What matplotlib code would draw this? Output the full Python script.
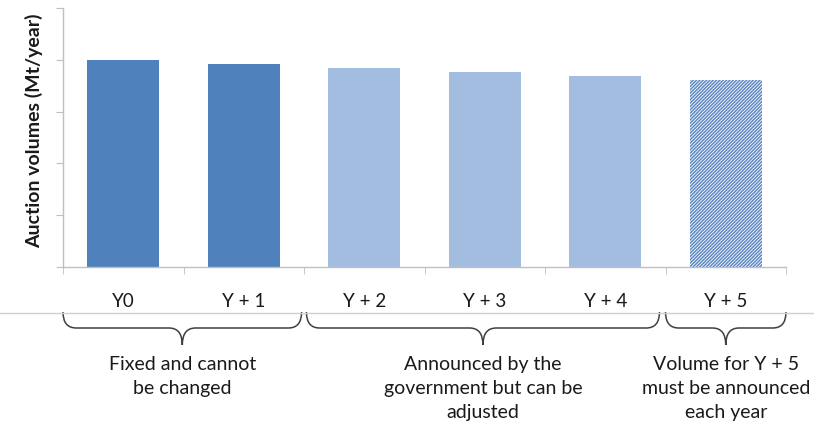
import matplotlib
matplotlib.use("Agg")
import matplotlib.pyplot as plt
from matplotlib.path import Path
from matplotlib.patches import PathPatch
from matplotlib.transforms import blended_transform_factory
from matplotlib.lines import Line2D

# ---- data ----
categories = ["Y0", "Y + 1", "Y + 2", "Y + 3", "Y + 4", "Y + 5"]
volumes = [4.0, 3.92, 3.85, 3.77, 3.69, 3.61]
bar_style = ["fixed", "fixed", "announced", "announced", "announced", "new"]
group_spans = [(-0.5, 1.48), (1.52, 4.45), (4.5, 5.5)]
group_texts = ["Fixed and cannot\nbe changed",
               "Announced by the\ngovernment but can be\nadjusted",
               "Volume for Y + 5\nmust be announced\neach year"]
y_label = "Auction volumes (Mt/year)"

plt.rcParams['font.family'] = ['Lato', 'DejaVu Sans']
plt.rcParams['hatch.linewidth'] = 1.1

W, H = 814, 430
fig = plt.figure(figsize=(W / 100, H / 100), dpi=100)
ax = fig.add_axes([63 / W, 1 - 267 / H, 723 / W, 259 / H])

solid = "#4F81BD"
light = "#A3BDE0"
for i, (v, s) in enumerate(zip(volumes, bar_style)):
    if s == "fixed":
        ax.bar(i, v, width=0.6, color=solid, linewidth=0)
    elif s == "announced":
        ax.bar(i, v, width=0.6, color=light, linewidth=0)
    else:
        ax.bar(i, v, width=0.6, facecolor="white", edgecolor="#5F88C2",
               hatch="//////////", linewidth=0)

ax.set_xlim(-0.5, 5.5)
ax.set_ylim(0, 5)
gray = "#BFBFBF"
for side in ["top", "right"]:
    ax.spines[side].set_visible(False)
for side in ["left", "bottom"]:
    ax.spines[side].set_color(gray)
    ax.spines[side].set_linewidth(1.0)

ax.set_yticks(range(0, 6))
ax.set_yticklabels([])
ax.tick_params(axis="y", length=5, color=gray, direction="out")

ax.set_xticks(range(len(categories)))
ax.set_xticklabels(categories, fontsize=13.5, color="#1a1a1a")
ax.tick_params(axis="x", which="major", length=0, pad=19)
ax.set_xticks([i - 0.5 for i in range(len(categories) + 1)], minor=True)
ax.tick_params(axis="x", which="minor", length=5, color=gray, direction="out")

fig.text(34 / W, 1 - 131 / H, y_label, rotation=90, ha="center", va="center",
         fontsize=14, fontweight="bold", color="#1a1a1a")

# horizontal separator line
fig.add_artist(Line2D([0, 1], [1 - 313 / H, 1 - 313 / H], transform=fig.transFigure,
                      color="#D0D0D0", linewidth=1.0))

# braces
tr = blended_transform_factory(ax.transData, fig.transFigure)
ytop = 1 - 312 / H
ymid = 1 - 328 / H
ytip = 1 - 345 / H
r = 0.11
for (x0, x1), txt in zip(group_spans, group_texts):
    xc = (x0 + x1) / 2
    verts = [(x0, ytop), (x0, ymid), (x0 + r, ymid),
             (xc - r, ymid), (xc, ymid), (xc, ytip),
             (xc, ymid), (xc + r, ymid),
             (x1 - r, ymid), (x1, ymid), (x1, ytop)]
    codes = [Path.MOVETO, Path.CURVE3, Path.CURVE3,
             Path.LINETO, Path.CURVE3, Path.CURVE3,
             Path.CURVE3, Path.CURVE3,
             Path.LINETO, Path.CURVE3, Path.CURVE3]
    p = PathPatch(Path(verts, codes), transform=tr, facecolor="none",
                  edgecolor="#404040", linewidth=1.1, clip_on=False)
    fig.add_artist(p)
    ax.text(xc, 1 - 356 / H, txt, transform=tr, ha="center", va="top",
            fontsize=14, linespacing=1.5, color="#1a1a1a")

fig.savefig("out.png", dpi=100)
